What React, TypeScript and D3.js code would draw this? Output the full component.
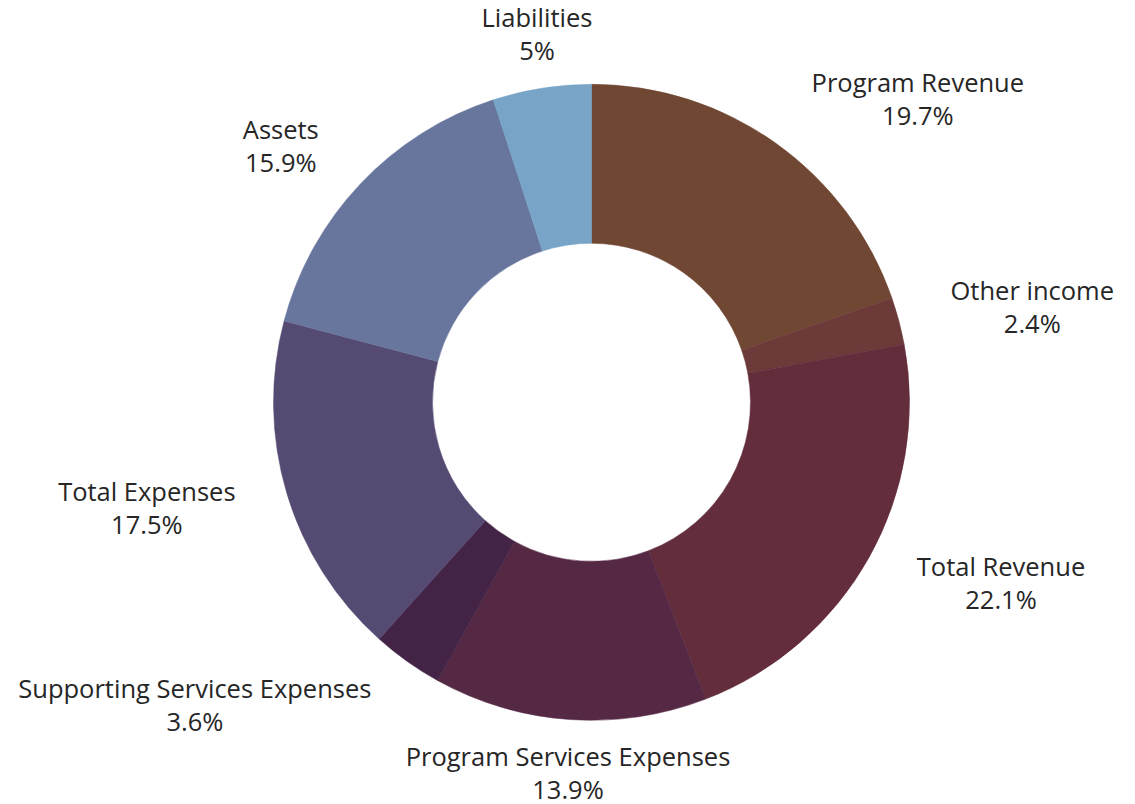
import React from "react";
import * as d3 from "d3";

const categories = [
  "Program Revenue",
  "Other income",
  "Total Revenue",
  "Program Services Expenses",
  "Supporting Services Expenses",
  "Total Expenses",
  "Assets",
  "Liabilities",
];
const values = [19.7, 2.4, 22.1, 13.9, 3.6, 17.5, 15.9, 5];
const valueLabels = ["19.7%", "2.4%", "22.1%", "13.9%", "3.6%", "17.5%", "15.9%", "5%"];
const colors = ["#704733", "#6d3a3a", "#632d3c", "#552844", "#432447", "#554a72", "#68769e", "#77a4c7"];

const W = 1135;
const H = 804;
const CX = 591.5;
const CY = 402.3;
const R = 318;
const r = 159;
const FONT_SIZE = 25.5;
const FONT = "'Open Sans', 'Noto Sans', sans-serif";
const LINE = 33;

function measure(text: string): number {
  const c = document.createElement("canvas").getContext("2d");
  if (!c) return text.length * FONT_SIZE * 0.55;
  c.font = `${FONT_SIZE}px 'Open Sans'`;
  return c.measureText(text).width;
}

export default function App() {
  const pie = d3.pie<number>().sort(null).value((d) => d)(values);
  const arc = d3.arc<d3.PieArcDatum<number>>().innerRadius(r).outerRadius(R);
  const labelR = R + 23;

  return (
    <div style={{ position: "fixed", left: 0, top: 0, background: "#fff" }}>
      <svg width={W} height={H} style={{ display: "block" }}>
        <g transform={`translate(${CX},${CY})`}>
          {pie.map((p, i) => (
            <path key={i} d={arc(p) || ""} fill={colors[i]} stroke={colors[i]} strokeWidth={0.5} />
          ))}
          {pie.map((p, i) => {
            const a = (p.startAngle + p.endAngle) / 2;
            const s = Math.sin(a);
            const c = -Math.cos(a);
            const w = Math.max(measure(categories[i]), measure(valueLabels[i]));
            const h = LINE * 2 - 4;
            const f = Math.max(0, Math.min(1, (Math.abs(s) - 0.15) / 0.35));
            const gap = 12 + 18 * Math.abs(s);
            const x = s * labelR + Math.sign(s) * (w / 2 + gap) * f;
            const y = c * labelR + c * (h / 2);
            return (
              <text
                key={"t" + i}
                x={x}
                y={y}
                textAnchor="middle"
                fontFamily={FONT}
                fontSize={FONT_SIZE}
                fill="#262626"
              >
                <tspan x={x} dy={-LINE / 2 + 9}>{categories[i]}</tspan>
                <tspan x={x} dy={LINE}>{valueLabels[i]}</tspan>
              </text>
            );
          })}
        </g>
      </svg>
    </div>
  );
}
